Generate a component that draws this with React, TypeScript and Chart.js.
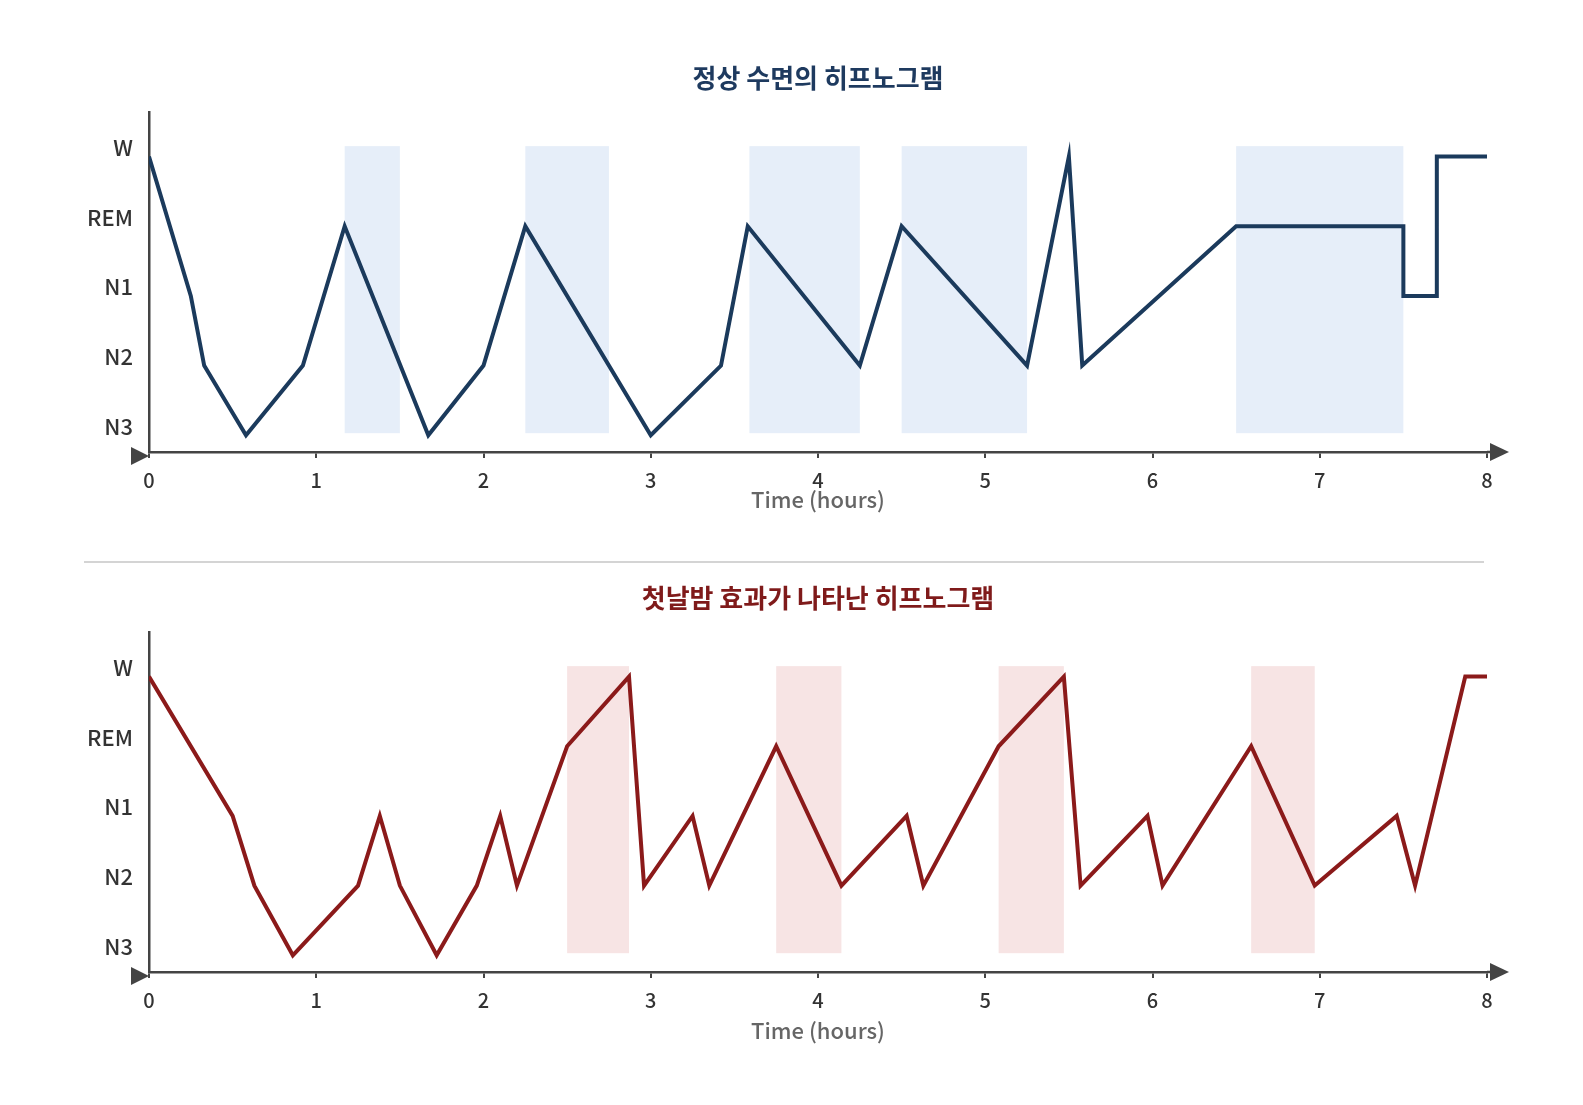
import React, { useEffect, useRef } from "react";
import { Chart, registerables } from "chart.js";

Chart.register(...registerables);

const FONT = "'Noto Sans CJK KR', 'Noto Sans', sans-serif";

// Sleep stages from deepest (0) to awake (4)
const STAGES = ["N3", "N2", "N1", "REM", "W"];
const X_TICKS = [0, 1, 2, 3, 4, 5, 6, 7, 8];
const X_TITLE = "Time (hours)";

// Normal hypnogram
const normalTitle = "정상 수면의 히프노그램";
const normalTimes = [0, 0.25, 0.33, 0.58, 0.92, 1.17, 1.67, 2.0, 2.25, 3.0, 3.42, 3.58, 4.25, 4.5, 5.25, 5.5, 5.58, 6.5, 7.5, 7.5, 7.7, 7.7, 8];
const normalStages = ["W", "N1", "N2", "N3", "N2", "REM", "N3", "N2", "REM", "N3", "N2", "REM", "N2", "REM", "N2", "W", "N2", "REM", "REM", "N1", "N1", "W", "W"];
const normalRemStart = [1.17, 2.25, 3.59, 4.5, 6.5];
const normalRemEnd = [1.5, 2.75, 4.25, 5.25, 7.5];

// First-night-effect hypnogram
const fneTitle = "첫날밤 효과가 나타난 히프노그램";
const fneTimes = [0, 0.5, 0.63, 0.86, 1.25, 1.38, 1.5, 1.72, 1.96, 2.1, 2.2, 2.5, 2.87, 2.96, 3.25, 3.35, 3.75, 4.14, 4.53, 4.63, 5.08, 5.47, 5.57, 5.97, 6.06, 6.59, 6.97, 7.46, 7.57, 7.87, 8];
const fneStages = ["W", "N1", "N2", "N3", "N2", "N1", "N2", "N3", "N2", "N1", "N2", "REM", "W", "N2", "N1", "N2", "REM", "N2", "N1", "N2", "REM", "W", "N2", "N1", "N2", "REM", "N2", "N1", "N2", "W", "W"];
const fneRemStart = [2.5, 3.75, 5.08, 6.59];
const fneRemEnd = [2.87, 4.14, 5.47, 6.97];

const BAND_LOW = 0.03;
const BAND_HIGH = 4.15;

const bandPlugin = {
  id: "remBands",
  beforeDatasetsDraw(chart: any, _args: any, opts: any) {
    const { ctx, scales } = chart;
    const x = scales.x;
    const y = scales.y;
    ctx.save();
    ctx.fillStyle = opts.color;
    const starts: number[] = opts.starts || [];
    const ends: number[] = opts.ends || [];
    for (let i = 0; i < starts.length; i++) {
      const x1 = x.getPixelForValue(starts[i]);
      const x2 = x.getPixelForValue(ends[i]);
      const y1 = y.getPixelForValue(BAND_HIGH);
      const y2 = y.getPixelForValue(BAND_LOW);
      ctx.fillRect(x1, y1, x2 - x1, y2 - y1);
    }
    ctx.restore();
  },
};

const arrowPlugin = {
  id: "axisArrows",
  afterDraw(chart: any) {
    const { ctx, chartArea } = chart;
    const yA = chartArea.bottom;
    const r = chartArea.right;
    const l = chartArea.left;
    ctx.save();
    ctx.fillStyle = "#444";
    ctx.strokeStyle = "#444";
    ctx.lineWidth = 2.5;
    ctx.beginPath();
    ctx.moveTo(r, yA);
    ctx.lineTo(r + 5, yA);
    ctx.stroke();
    ctx.beginPath();
    ctx.moveTo(r + 3, yA - 9);
    ctx.lineTo(r + 22, yA);
    ctx.lineTo(r + 3, yA + 9);
    ctx.closePath();
    ctx.fill();
    ctx.beginPath();
    ctx.moveTo(l - 18, yA - 5);
    ctx.lineTo(l, yA + 4);
    ctx.lineTo(l - 18, yA + 13);
    ctx.closePath();
    ctx.fill();
    ctx.restore();
  },
};

type Props = {
  title: string;
  titleColor: string;
  times: number[];
  stages: string[];
  remStart: number[];
  remEnd: number[];
  lineColor: string;
  bandColor: string;
  xTitlePad: number;
};

function Hypnogram(p: Props) {
  const ref = useRef<HTMLCanvasElement | null>(null);
  useEffect(() => {
    if (!ref.current) return;
    const data = p.times.map((t, i) => ({ x: t, y: STAGES.indexOf(p.stages[i]) }));
    const titleSize = 26;
    const titleLH = titleSize * 1.2;
    const titleTop = 70 - titleLH / 2;
    const chart = new Chart(ref.current, {
      type: "line",
      data: {
        datasets: [
          {
            data,
            borderColor: p.lineColor,
            borderWidth: 4,
            pointRadius: 0,
            tension: 0,
            fill: false,
            borderJoinStyle: "miter",
          } as any,
        ],
      },
      plugins: [bandPlugin, arrowPlugin],
      options: {
        animation: false,
        responsive: false,
        maintainAspectRatio: false,
        layout: { padding: { left: 0, right: 88, top: 0, bottom: 0 } },
        plugins: {
          legend: { display: false },
          tooltip: { enabled: false },
          title: {
            display: true,
            text: p.title,
            color: p.titleColor,
            fullSize: false,
            font: { family: FONT, size: titleSize, weight: 600, lineHeight: 1.2 },
            padding: { top: titleTop, bottom: 104 - titleTop - titleLH },
          },
          remBands: { color: p.bandColor, starts: p.remStart, ends: p.remEnd },
        } as any,
        scales: {
          x: {
            type: "linear",
            position: "bottom",
            min: 0,
            max: 8,
            afterBuildTicks: (s: any) => {
              s.ticks = X_TICKS.map((v) => ({ value: v }));
            },
            afterFit: (s: any) => {
              s.height = 76;
            },
            ticks: {
              autoSkip: false,
              padding: 10,
              color: "#333",
              font: { family: FONT, size: 20, weight: 500 },
              callback: (v: any) => String(v),
            },
            grid: {
              display: true,
              drawOnChartArea: false,
              drawTicks: true,
              tickLength: 6,
              color: "#444",
              lineWidth: 2,
            },
            border: { display: true, color: "#444", width: 2.5 },
            title: {
              display: true,
              text: X_TITLE,
              color: "#666",
              font: { family: FONT, size: 22, weight: 500 },
              padding: { top: 0, bottom: p.xTitlePad },
            },
          },
          y: {
            type: "linear",
            position: "left",
            min: -0.24,
            max: 4.64,
            afterBuildTicks: (s: any) => {
              s.ticks = STAGES.map((_, i) => ({ value: i }));
            },
            afterFit: (s: any) => {
              s.width = 141;
            },
            ticks: {
              autoSkip: false,
              padding: 16,
              labelOffset: -9,
              color: "#333",
              font: { family: FONT, size: 22, weight: 500 },
              callback: (v: any) => STAGES[Math.round(Number(v))] ?? "",
            },
            grid: { display: true, drawOnChartArea: false, drawTicks: false },
            border: { display: true, color: "#444", width: 2.5 },
          },
        },
      } as any,
    });
    return () => chart.destroy();
  }, []);
  return <canvas ref={ref} width={1567} height={520} style={{ width: 1567, height: 520, display: "block" }} />;
}

export default function App() {
  return (
    <div style={{ position: "relative", width: 1567, height: 1050 }}>
      <div style={{ position: "absolute", left: 0, top: 0 }}>
        <Hypnogram
          title={normalTitle}
          titleColor="#1e3a5f"
          times={normalTimes}
          stages={normalStages}
          remStart={normalRemStart}
          remEnd={normalRemEnd}
          lineColor="#1b3a5c"
          bandColor="#e6eef9"
          xTitlePad={15}
        />
      </div>
      <div style={{ position: "absolute", left: 0, top: 520 }}>
        <Hypnogram
          title={fneTitle}
          titleColor="#7f1a1a"
          times={fneTimes}
          stages={fneStages}
          remStart={fneRemStart}
          remEnd={fneRemEnd}
          lineColor="#8b1a1a"
          bandColor="#f7e4e4"
          xTitlePad={4}
        />
      </div>
      <div style={{ position: "absolute", left: 76, top: 553, width: 1400, height: 2, background: "#d4d4d4" }} />
    </div>
  );
}
